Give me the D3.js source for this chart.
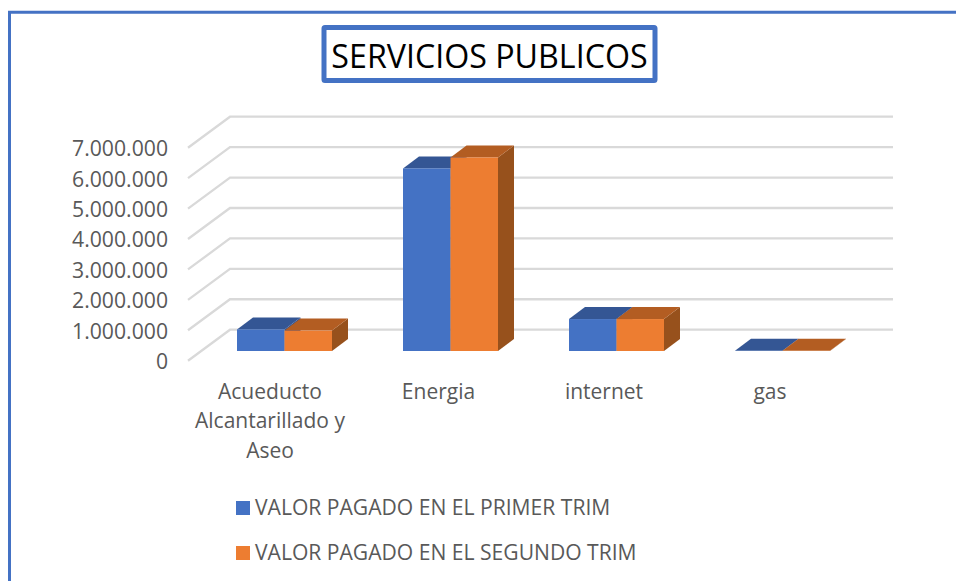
<!DOCTYPE html>
<html><head><meta charset="utf-8">
<script src="https://cdn.jsdelivr.net/npm/d3@7/dist/d3.min.js"></script>
<style>html,body{margin:0;padding:0;background:#fff;overflow:hidden}svg{display:block}text{font-family:"Open Sans","Noto Sans",sans-serif}</style>
</head><body><svg id="c" width="956" height="581"></svg>
<script>
const title = "SERVICIOS PUBLICOS";
const categories = ["Acueducto Alcantarillado y Aseo", "Energia", "internet", "gas"];
const categoryLines = [["Acueducto","Alcantarillado y","Aseo"],["Energia"],["internet"],["gas"]];
const firstTrim = [710000, 6000000, 1050000, 5000];
const secondTrim = [670000, 6360000, 1050000, 5000];
const seriesNames = ["VALOR PAGADO EN EL PRIMER TRIM", "VALOR PAGADO EN EL SEGUNDO TRIM"];
const ticks = [0,1000000,2000000,3000000,4000000,5000000,6000000,7000000];
const tickLabels = ["0","1.000.000","2.000.000","3.000.000","4.000.000","5.000.000","6.000.000","7.000.000"];

const svg = d3.select("#c");
const blue="#4472c4", orange="#ed7d31", blueTop="#345694", orangeTop="#b35d22", orangeSide="#97511c", blueSide="#2f5090";

// frame
svg.append("path").attr("d","M9.5,581V12.2H956").attr("fill","none").attr("stroke",blue).attr("stroke-width",3);

// title
svg.append("rect").attr("x",324).attr("y",27.5).attr("width",331).attr("height",53)
  .attr("fill","#fff").attr("stroke",blue).attr("stroke-width",5).attr("rx",1);
svg.append("text").attr("x",489.5).attr("y",68).attr("text-anchor","middle")
  .attr("font-size",32.2).attr("fill","#000").text(title);

// scales: y is for the front plane of the floor; wall is offset by depth
const y = d3.scaleLinear().domain([0,7000000]).range([360.7,147.7]);
const wallDx=42, wallDy=-31;
const x0 = d3.scaleBand().domain(categories).range([201.5,865.5]);
const x1 = d3.scaleBand().domain([0,1]).range([0,95]);
const barBase = 351, barDx=16, barDy=-12;
const h = d3.scaleLinear().domain([0,7000000]).range([0,213]);

// gridlines
const grid = svg.append("g").attr("fill","none").attr("stroke","#d9d9d9").attr("stroke-width",2.3);
ticks.forEach(t=>{
  const Y=y(t);
  grid.append("path").attr("d",d3.line()([[188,Y],[188+wallDx,Y+wallDy],[893,Y+wallDy]]));
});

// tick labels
svg.append("g").selectAll("text").data(ticks).join("text")
  .attr("x",168).attr("y",(d)=>y(d)+8.5).attr("text-anchor","end")
  .attr("font-size",21.2).attr("fill","#595959").text((d,i)=>tickLabels[i]);

// bars
const seriesVals=[firstTrim,secondTrim];
const bars = svg.append("g");
categories.forEach((c,ci)=>{
  const off = (x0.bandwidth()-95)/2;
  [0,1].forEach(si=>{
    const v=seriesVals[si][ci], X=x0(c)+off+x1(si), W=x1.bandwidth(), H=h(v), T=barBase-H;
    const top = si? orangeTop:blueTop, side = si? orangeSide:blueSide, face = si? orange:blue;
    bars.append("path").attr("fill",side)
      .attr("d",d3.line()([[X+W,T],[X+W+barDx,T+barDy],[X+W+barDx,barBase+barDy],[X+W,barBase]])+"Z");
    bars.append("path").attr("fill",top)
      .attr("d",d3.line()([[X,T],[X+barDx,T+barDy],[X+W+barDx,T+barDy],[X+W,T]])+"Z");
    bars.append("rect").attr("x",X).attr("y",T).attr("width",W).attr("height",H).attr("fill",face);
  });
});

// category labels
const xlab = svg.append("g").attr("font-size",21).attr("fill","#595959").attr("text-anchor","middle");
const labelX=[270,438.5,604,770];
categories.forEach((c,i)=>{
  const t=xlab.append("text");
  categoryLines[i].forEach((ln,j)=>t.append("tspan").attr("x",labelX[i]).attr("y",398.5+j*29.5).text(ln));
});

// legend
const legY=[501,546];
seriesNames.forEach((n,i)=>{
  svg.append("rect").attr("x",236).attr("y",legY[i]).attr("width",14).attr("height",14).attr("fill",i?orange:blue);
  svg.append("text").attr("x",255).attr("y",legY[i]+14).attr("font-size",21.1).attr("fill","#595959").text(n);
});
</script></body></html>
